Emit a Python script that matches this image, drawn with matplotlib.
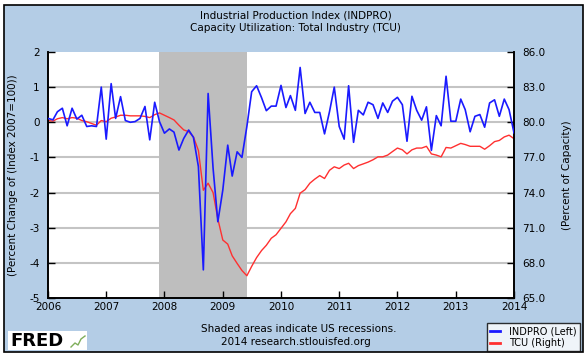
import pandas as pd
import matplotlib
matplotlib.use("Agg")
import matplotlib.pyplot as plt
from matplotlib.patches import Rectangle
from matplotlib.lines import Line2D

plt.rcParams['font.family'] = ['DejaVu Sans']
plt.rcParams['axes.unicode_minus'] = False

# monthly, Jan 2006 .. Jan 2014
dates = pd.date_range('2006-01-01', periods=97, freq='MS')

indpro = [0.11, 0.07, 0.30, 0.40, -0.10, 0.40, 0.09, 0.20, -0.12, -0.10, -0.12, 1.00,
          -0.48, 1.10, 0.11, 0.73, 0.05, 0.00, 0.02, 0.11, 0.45, -0.50, 0.57, 0.02,
          -0.31, -0.19, -0.28, -0.79, -0.46, -0.22, -0.43, -1.26, -4.20, 0.82, -1.30, -2.83,
          -1.93, -0.65, -1.53, -0.84, -1.00, -0.12, 0.87, 1.04, 0.70, 0.33, 0.46, 0.46,
          1.05, 0.42, 0.76, 0.34, 1.56, 0.25, 0.57, 0.28, 0.28, -0.33, 0.30, 1.00,
          -0.12, -0.48, 1.04, -0.57, 0.34, 0.21, 0.57, 0.50, 0.11, 0.55, 0.28, 0.60,
          0.71, 0.50, -0.54, 0.74, 0.34, 0.06, 0.44, -0.80, 0.19, -0.10, 1.31, 0.03,
          0.03, 0.66, 0.36, -0.27, 0.17, 0.22, -0.14, 0.55, 0.64, 0.17, 0.66, 0.36,
          -0.30]

tcu = [80.15, 80.1, 80.3, 80.4, 80.3, 80.4, 80.35, 80.15, 80.05, 79.9, 79.75, 80.15,
       80.05, 80.35, 80.45, 80.6, 80.6, 80.55, 80.55, 80.55, 80.5, 80.4, 80.65, 80.8,
       80.6, 80.4, 80.2, 79.75, 79.35, 79.2, 78.75, 77.6, 74.2, 74.8, 74.0, 71.75,
       69.95, 69.6, 68.6, 67.95, 67.35, 66.9, 67.7, 68.45, 69.05, 69.5, 70.1, 70.4,
       70.95, 71.5, 72.2, 72.65, 73.95, 74.25, 74.8, 75.15, 75.45, 75.2, 75.9, 76.2,
       76.05, 76.35, 76.5, 76.05, 76.3, 76.45, 76.6, 76.8, 77.05, 77.05, 77.2, 77.5,
       77.8, 77.65, 77.3, 77.65, 77.8, 77.8, 77.95, 77.3, 77.2, 77.05, 77.85, 77.8,
       78.0, 78.2, 78.1, 77.95, 77.95, 77.95, 77.7, 78.0, 78.35, 78.45, 78.75, 78.9,
       78.6]

recession_start = '2007-12-01'
recession_end = '2009-06-01'

left_ticks = [2, 1, 0, -1, -2, -3, -4, -5]
right_ticks = [86.0, 83.0, 80.0, 77.0, 74.0, 71.0, 68.0, 65.0]
years = list(range(2006, 2015))

bg = '#b4cde6'
fig = plt.figure(figsize=(5.88, 3.55), dpi=100)
fig.patches.append(Rectangle((4 / 588, 3 / 355), 579 / 588, 347 / 355, transform=fig.transFigure,
                             facecolor=bg, edgecolor='black', lw=1.2, zorder=-10))

ax = fig.add_axes([48 / 588, 1 - 298 / 355, 466 / 588, 246 / 355])
ax2 = ax.twinx()

# ax2 sits underneath: white patch, grid, shading, red line
ax2.set_zorder(1)
ax.set_zorder(2)
ax.patch.set_visible(False)
ax2.patch.set_visible(True)
ax2.patch.set_facecolor('white')

for t in right_ticks[1:-1]:
    ax2.axhline(t, color='#c4c4c4', lw=1.5, zorder=0.5)
ax2.axvspan(pd.Timestamp(recession_start), pd.Timestamp(recession_end), color='#bebebe', lw=0, zorder=1)
ax2.plot(dates, tcu, color='#ff3030', lw=1.0, zorder=2)
ax.plot(dates, indpro, color='#1a1aff', lw=1.2, zorder=3)

ax.set_xlim(pd.Timestamp('2006-01-01'), pd.Timestamp('2014-01-01'))
ax.set_ylim(-5, 2)
ax2.set_ylim(65, 86)
ax.set_yticks(left_ticks)
ax.set_yticklabels([str(t) for t in left_ticks])
ax2.set_yticks(right_ticks)
ax2.set_yticklabels(['%.1f' % t for t in right_ticks])
ax.set_xticks([pd.Timestamp('%d-01-01' % y) for y in years])
ax.set_xticklabels([str(y) for y in years])

for a in (ax, ax2):
    a.spines['top'].set_visible(False)
    for s in ('left', 'right', 'bottom'):
        a.spines[s].set_linewidth(1.2)
    a.tick_params(direction='in', length=5, width=1, labelsize=7.5, pad=6)
ax.tick_params(axis='x', pad=3)

ax.set_ylabel('(Percent Change of (Index 2007=100))', fontsize=7.5, labelpad=8)
ax2.set_ylabel('(Percent of Capacity)', fontsize=7.5, labelpad=12)

fig.text(0.503, 1 - 15 / 355, 'Industrial Production Index (INDPRO)', ha='center', va='center', fontsize=7.5)
fig.text(0.503, 1 - 28 / 355, 'Capacity Utilization: Total Industry (TCU)', ha='center', va='center', fontsize=7.5)
fig.text(0.508, 1 - 329 / 355, 'Shaded areas indicate US recessions.', ha='center', va='center', fontsize=7.5)
fig.text(0.503, 1 - 342 / 355, '2014 research.stlouisfed.org', ha='center', va='center', fontsize=7.5)

# FRED logo box
fig.patches.append(Rectangle((8 / 588, 1 - 350 / 355), 79 / 588, 19 / 355, transform=fig.transFigure,
                             facecolor='white', edgecolor='none'))
fig.text(10 / 588, 1 - 341 / 355, 'FRED', ha='left', va='center', fontsize=13, fontweight='bold')
fig.lines.append(Line2D([71 / 588, 75 / 588, 78 / 588, 81 / 588, 85 / 588],
                        [1 - 347 / 355, 1 - 343 / 355, 1 - 345 / 355, 1 - 339 / 355, 1 - 336 / 355],
                        transform=fig.transFigure, color='#7fae5a', lw=1))

handles = [Line2D([], [], color='#1a1aff', lw=2), Line2D([], [], color='#ff3030', lw=2)]
leg = fig.legend(handles, ['INDPRO (Left)', 'TCU (Right)'], loc='lower right',
                 bbox_to_anchor=(580 / 588, 1 - 351 / 355), fontsize=7, frameon=True,
                 fancybox=False, edgecolor='black', handlelength=1.0, handletextpad=1.0,
                 borderpad=0.3, labelspacing=0.2, borderaxespad=0)
leg.get_frame().set_linewidth(1.0)

fig.savefig('out.png', dpi=100, facecolor='white')
